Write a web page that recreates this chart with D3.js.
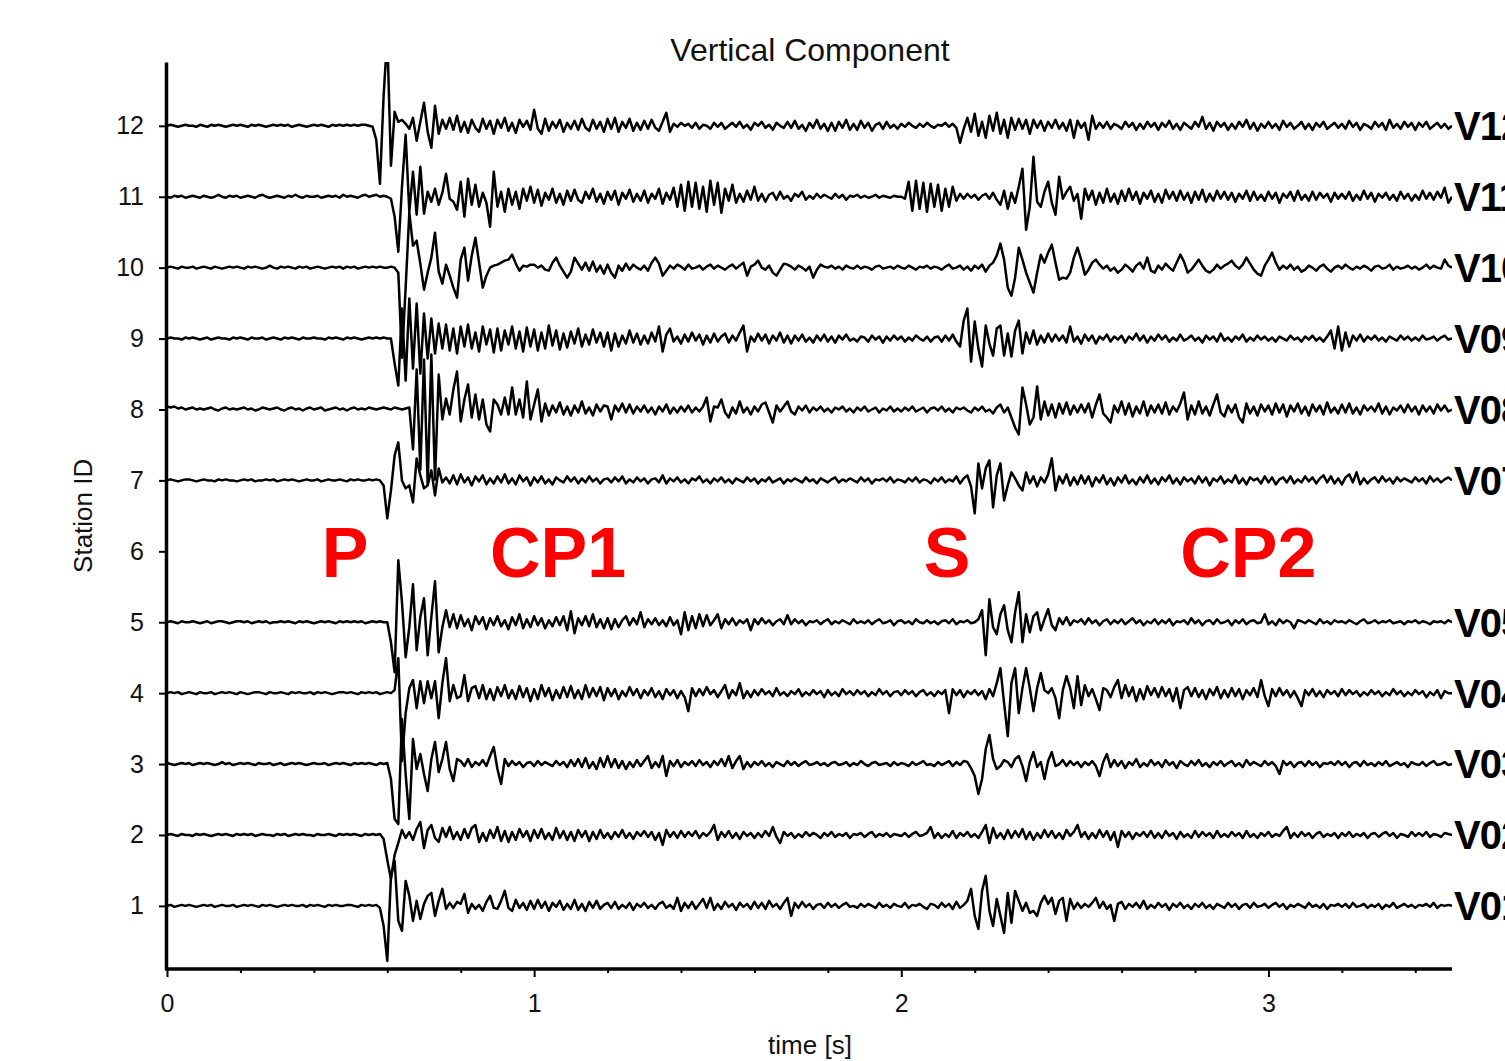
<!DOCTYPE html>
<html>
<head>
<meta charset="utf-8">
<script src="https://cdn.jsdelivr.net/npm/d3@7"></script>
<style>
  body { margin: 0; background: #fff; }
  svg { display: block; font-family: "Liberation Sans", Arial, Helvetica, sans-serif; }
</style>
</head>
<body>
<svg id="chart" width="1505" height="1061"></svg>
<script>
// sample interval of the traces [s], and amplitude units per station spacing
var DT = 0.01
var UNITS_PER_STATION = 70.9

var stationIds = [12, 11, 10, 9, 8, 7, 5, 4, 3, 2, 1]
var stationNames = ["V12", "V11", "V10", "V09", "V08", "V07", "V05", "V04", "V03", "V02", "V01"]
var yTickValues = [1, 2, 3, 4, 5, 6, 7, 8, 9, 10, 11, 12]
var xTickValues = [0, 1, 2, 3]
var phaseNames = ["P", "CP1", "S", "CP2"]
var phaseTimes = [0.485, 1.065, 2.125, 2.945]
var phaseRow = 6

var v12 = [
  0,1,0,-1,0,1,0,0,-1,1,
  0,-1,1,0,1,0,-1,0,1,0,
  1,0,-1,1,0,1,0,-1,0,1,
  0,1,0,1,-1,0,1,0,-1,0,
  1,0,1,0,-1,1,0,1,0,1,
  0,1,0,1,1,0,-1,-14,-58,30,
  90,-40,14,4,6,2,-3,8,-15,4,
  23,-6,-22,20,-8,6,-3,8,-4,10,
  -6,4,-7,6,-2,-6,7,-3,5,-8,
  6,-2,8,-5,3,-7,6,-1,5,-4,
  16,-3,-8,7,-5,4,-2,6,-6,3,
  -3,5,-4,7,-2,-5,6,-3,4,-6,
  7,-3,8,-6,4,-2,7,-5,3,-4,
  5,-3,6,-2,-5,4,13,-6,2,-1,
  3,0,2,-2,3,-3,1,0,-3,3,
  -1,3,-3,0,3,-1,4,-2,1,-4,
  3,0,4,-2,1,-4,3,0,-2,4,
  -2,5,-3,1,-5,3,-2,6,-3,2,
  -5,3,-5,4,-2,6,-4,2,-4,5,
  -2,3,-5,1,3,-3,4,-2,1,-3,
  2,-1,3,0,-2,2,-1,3,0,-2,
  1,0,3,-1,2,-2,-17,-3,8,-6,
  12,-10,4,-12,10,-5,13,-8,6,-12,
  8,-4,7,-3,6,-8,6,-2,5,-5,
  4,-2,6,-3,3,-5,6,-12,5,-2,
  3,-14,10,-3,3,-2,4,-3,2,0,
  -3,4,-1,3,-4,2,-3,4,-1,3,
  -4,3,-1,5,-3,2,-4,3,0,-3,
  4,-1,9,-3,3,-5,4,-1,3,-4,
  2,-3,4,-1,6,-3,3,-5,2,-2,
  4,-2,2,-4,5,-1,3,-3,0,4,
  -3,2,-4,3,-1,4,-3,0,3,-2,
  2,-3,5,-1,3,-4,2,0,-3,4,
  -1,3,-4,6,-2,2,-3,4,-1,3,
  -4,3,-1,4,-3,0,3,-2,2,-3,
  0
]

var v11 = [
  0,-1,1,0,1,-1,0,1,0,-1,
  1,0,-1,0,2,0,-1,1,0,1,
  -1,0,1,0,-1,1,2,0,-1,0,
  1,0,-1,1,0,2,0,-1,1,0,
  0,1,-1,0,1,0,1,-1,2,0,
  1,0,-1,1,2,0,1,2,0,1,
  0,-2,-20,-55,10,62,-15,25,-18,30,
  -17,5,-5,8,-8,4,23,-2,-5,-13,
  15,-20,18,-8,12,-10,4,-6,-30,25,
  -10,5,-15,8,-8,5,-12,8,-4,10,
  -6,7,-9,4,-3,8,-6,3,-8,6,
  -4,7,-3,-6,5,-2,8,-5,3,-7,
  5,-3,6,-8,4,-2,7,-5,3,-4,
  6,-6,3,-2,8,-7,4,-3,9,-10,
  12,-14,15,-10,14,-12,10,-15,16,-8,
  14,-16,8,-4,12,-6,3,-5,6,-3,
  10,-4,3,-5,2,4,-3,5,-2,1,
  -4,3,0,5,-3,1,-2,3,-1,2,
  0,-2,3,-1,2,-3,1,0,2,-1,
  1,-1,0,2,-1,1,0,-1,1,0,
  0,-2,15,-14,16,-12,14,-15,13,-10,
  12,-14,8,-10,10,-4,3,-2,3,-1,
  2,-3,1,3,-2,4,-3,-8,6,-12,
  4,-6,10,28,-33,-10,40,-5,-10,5,
  15,-6,-18,20,-2,5,10,-4,3,-22,
  8,-3,6,-8,4,-6,8,-5,3,-7,
  6,-4,8,-3,5,-7,4,-2,6,-5,
  3,-6,7,-2,5,-4,6,-3,4,-6,
  5,-3,7,-5,3,-4,6,-2,5,-3,
  4,-5,3,-2,6,-4,5,-3,2,-4,
  5,-2,4,-6,3,-1,5,-4,6,-3,
  2,-4,5,-3,4,-1,3,-5,4,-2,
  3,-2,5,-4,2,-3,6,-2,4,-5,
  3,-1,4,-3,2,-4,5,-2,3,-4,
  2,-3,6,-2,4,-3,5,-1,9,-6,
  0
]

var v10 = [
  0,1,0,-1,1,0,0,1,-1,0,
  1,0,-1,1,0,-1,0,1,0,1,
  0,-1,1,0,1,0,-1,0,2,0,
  -1,1,0,1,0,-1,1,0,1,-1,
  0,1,0,-1,0,1,0,1,-1,1,
  0,1,-1,0,1,0,1,0,1,0,
  0,1,0,-5,-90,-20,55,22,27,4,
  -22,-5,10,35,-4,-16,3,-8,-20,-30,
  8,20,-13,12,30,5,-20,-8,0,2,
  3,5,7,8,13,4,-3,2,1,3,
  3,0,2,-2,-3,5,10,2,-4,-10,
  -4,10,4,-2,5,-3,6,-4,2,-6,
  3,-5,-10,2,-3,4,-2,3,0,-2,
  2,-3,5,10,4,-8,-3,2,-1,3,
  1,-2,3,-1,0,2,-2,1,3,-1,
  2,0,-2,1,3,-1,2,5,-8,1,
  3,7,0,-2,2,-5,-8,-2,4,3,
  1,-2,2,0,-3,1,-10,-2,3,1,
  0,2,-1,1,-2,2,0,-1,2,-1,
  1,0,-2,1,2,-1,0,1,-1,2,
  0,-1,2,0,-2,1,0,2,-1,1,
  0,-2,1,3,-1,0,2,-2,1,-3,
  2,-1,3,-4,2,5,12,24,8,-20,
  -28,-10,20,8,-5,-15,-25,-5,13,5,
  15,23,5,-12,-10,-11,-5,10,20,8,
  -7,-2,5,8,3,-1,2,-3,0,-5,
  -2,3,0,-4,2,5,-1,10,-3,-5,
  2,-2,4,0,-3,5,13,6,-5,-2,
  3,8,2,-3,-5,-2,3,-1,2,4,
  7,2,-1,3,10,4,-2,-6,-8,2,
  8,15,5,-2,2,-1,3,-2,1,-4,
  -2,2,0,-3,1,3,-1,-4,0,2,
  -1,3,0,-2,1,-1,2,0,-3,1,
  2,-1,0,3,-2,1,-1,0,2,-1,
  1,-2,0,3,-1,2,0,-1,8,2,
  0
]

var v09 = [
  0,1,0,0,-1,1,0,1,0,-1,
  0,1,-1,0,1,0,0,-1,1,0,
  1,0,-1,1,0,0,1,-1,0,1,
  0,-1,1,0,1,0,-1,1,0,0,
  1,0,0,-1,1,0,1,0,-1,1,
  0,1,0,-1,0,1,0,1,0,1,
  0,0,-25,-47,30,-42,40,-30,35,-35,
  25,-20,20,-15,15,-10,14,-12,10,-15,
  12,-8,14,-10,6,-13,12,-6,9,-14,
  10,-12,8,-6,12,-10,7,-13,11,-8,
  9,-12,6,-10,13,-7,8,-11,5,-9,
  7,-5,10,-8,4,-6,9,-4,6,-8,
  6,-12,5,-8,3,-5,8,-4,5,-6,
  3,-5,6,-3,12,-13,4,10,-3,2,
  -5,4,-3,6,-2,4,-6,3,-4,5,
  -3,2,5,-4,3,-2,6,13,-13,2,
  -3,5,-2,4,-5,3,-2,6,-4,3,
  -5,3,-2,4,-3,1,-4,3,-2,4,
  -3,2,-4,3,-1,4,-2,0,-3,2,
  1,-3,3,-1,2,-4,2,-2,3,-1,
  2,-3,1,-2,3,0,-2,2,-3,1,
  2,-3,3,-2,4,-3,-8,18,30,-23,
  17,-10,-28,13,-5,-17,10,13,-17,5,
  -18,8,18,-15,6,-5,8,-6,3,-4,
  5,-3,4,-2,3,-4,12,-3,2,-5,
  4,-2,3,-5,2,-1,4,-3,2,-1,
  3,-4,2,-1,5,-2,3,-4,2,-2,
  4,-1,3,-3,1,-2,4,-2,0,3,
  -2,1,-4,3,-1,2,-3,5,-2,1,
  -3,2,-1,4,-3,1,-2,3,-1,2,
  -2,1,-3,2,0,-2,3,-1,1,-3,
  2,-1,3,-2,1,-3,2,8,-10,12,
  -12,6,-8,3,-2,4,-3,2,-1,3,
  -2,1,-3,2,0,-2,3,-1,2,-2,
  1,-2,3,-1,0,2,-2,1,3,-1,
  0
]

var v08 = [
  3,2,3,1,2,0,1,2,0,1,
  0,1,2,0,-1,1,2,0,1,0,
  1,2,0,1,-1,0,2,1,0,1,
  2,0,-1,1,2,0,1,-1,1,2,
  0,1,2,-1,0,1,2,0,1,-1,
  1,2,0,1,0,2,1,0,1,2,
  1,0,2,1,0,1,2,-40,40,-60,
  50,-75,55,-70,35,-10,11,-5,20,38,
  -12,10,25,-8,15,-10,10,-15,-22,10,
  5,-5,12,-5,22,-5,10,-8,28,-10,
  5,20,-12,6,-6,4,-3,7,-5,3,
  -6,4,-3,8,-4,2,-6,5,-2,4,
  3,-10,4,-2,6,-3,5,-4,3,-2,
  4,-3,2,-5,3,-2,5,-4,2,-3,
  3,-2,4,-3,2,-2,3,12,-12,3,
  2,10,-3,-8,2,-4,8,-3,2,-5,
  3,-2,5,7,-3,-13,4,-2,3,8,
  -2,-5,3,-1,4,-3,2,-1,3,-2,
  1,-3,2,0,3,-2,1,-3,2,-1,
  3,-2,0,2,-3,1,-1,3,-2,1,
  -2,2,-1,3,-2,0,2,-3,1,2,
  -1,3,-2,1,-3,2,0,2,-1,-3,
  2,-1,3,-2,0,-4,2,5,-3,2,
  -8,-18,-25,22,5,-15,-8,23,-10,8,
  -6,5,-8,6,-4,7,-5,4,-3,5,
  -3,6,-8,5,15,-4,-8,-13,4,-3,
  8,-5,6,-7,3,-4,8,-6,4,-3,
  5,-4,7,-5,3,-2,6,17,-10,4,
  -5,8,-4,3,-6,5,15,-3,-7,4,
  -3,5,-8,-13,6,-4,3,-6,5,-2,
  4,-5,6,-3,5,-7,4,-2,6,-4,
  3,-6,5,-2,4,-5,7,-3,2,-4,
  5,-3,6,-4,2,-5,4,-1,3,-2,
  6,-4,3,-5,2,-1,4,-3,5,-2,
  3,-5,4,-2,3,-4,5,-1,4,-2,
  0
]

var v07 = [
  0,1,0,-1,0,1,1,0,-1,0,
  1,0,0,-1,1,0,1,0,0,-1,
  0,1,0,1,-1,0,0,1,0,1,
  -1,0,1,0,1,0,-1,0,1,0,
  0,1,-1,0,1,0,0,1,0,-1,
  1,0,1,0,0,1,0,1,0,-5,
  -38,-10,25,38,0,-8,-5,-22,22,5,
  -8,-5,10,-15,12,-2,3,-3,5,-4,
  6,-2,3,-5,4,-1,5,-4,2,-3,
  4,-2,6,-3,2,-4,5,-1,3,-5,
  3,-2,4,-3,1,-4,3,0,-2,4,
  -1,3,-3,2,-2,4,-1,2,-3,1,
  2,-2,3,-1,4,-3,1,-2,3,-1,
  2,-3,1,2,-2,5,-3,2,-1,3,
  -2,1,-3,2,0,4,-2,1,-3,2,
  -1,3,-2,1,-3,2,0,-2,3,-1,
  2,-3,1,-1,3,-2,0,2,-3,1,
  -1,2,0,-2,3,-1,1,-3,2,0,
  -2,1,3,-2,1,-1,2,0,-2,3,
  -1,2,-3,1,0,2,-1,3,-2,1,
  0,-2,2,-1,3,-2,1,0,-3,2,
  -1,3,-2,1,-1,4,-3,2,5,-6,
  -33,17,-8,12,20,-27,5,17,-20,-5,
  8,2,-5,-10,8,-3,4,-6,3,-2,
  6,22,-10,4,-3,6,-5,3,-4,5,
  -3,4,-6,3,-2,5,-4,2,-5,3,
  -2,5,-3,1,-4,3,-2,5,-3,2,
  -4,3,-1,5,-3,2,-4,3,-1,2,
  -3,4,-2,3,-5,2,-1,4,-3,1,
  -2,5,-3,2,-4,3,0,2,-3,4,
  -2,3,-4,1,3,-2,4,-3,1,-2,
  4,-1,3,-3,2,5,-2,4,-3,2,
  -4,3,6,-2,8,-4,2,-3,1,3,
  -2,4,-1,2,-3,3,-1,2,0,-2,
  3,-1,2,-3,4,-1,2,-2,1,3,
  0
]

var v05 = [
  0,1,0,-1,1,0,0,1,0,-1,
  0,1,-1,0,1,1,0,-1,0,1,
  1,0,1,-1,0,1,0,1,-1,0,
  0,1,0,1,0,-1,1,0,1,0,
  -1,0,1,0,1,0,-1,1,0,1,
  0,1,0,1,-1,0,1,0,1,0,
  0,-20,-50,62,20,-35,-5,38,-28,5,
  24,-33,5,41,-30,-5,12,-5,8,-6,
  7,-4,3,-8,6,-2,5,-7,4,-3,
  6,-4,2,-7,5,-3,8,-6,3,-5,
  6,-3,4,-6,2,-4,5,-3,6,-8,
  11,-11,4,-3,6,-4,8,-5,3,-6,
  4,-7,3,-5,2,6,-3,4,-2,10,
  -5,3,-2,4,-3,2,-4,5,-3,2,
  -12,10,-8,6,-6,8,-4,7,-3,2,
  8,-6,3,-2,4,-3,2,-1,3,-8,
  3,-2,4,-1,2,-3,1,3,-2,7,
  -2,3,-1,2,-3,1,0,2,-2,1,
  3,-2,1,-1,2,0,-2,3,-1,1,
  -1,2,-2,1,3,-1,0,2,-3,1,
  2,-1,1,-2,3,0,-1,2,-1,1,
  -2,1,2,-1,3,-2,1,0,2,-1,
  0,3,12,-33,23,-5,-12,8,17,-8,
  -20,10,30,-20,8,-10,6,10,-8,3,
  13,-3,-8,4,-2,5,-3,2,0,3,
  -2,4,-1,2,-3,1,3,-2,2,-1,
  3,-2,1,4,-1,2,-3,1,-1,3,
  -2,2,-1,3,-3,1,0,2,-2,4,
  -1,2,-3,1,2,-2,3,-1,0,2,
  -3,2,-1,3,-2,1,2,-1,0,8,
  -2,1,-3,3,-1,2,0,-6,2,1,
  -1,2,0,-2,3,-1,1,-2,2,0,
  1,-1,2,0,-2,1,3,-1,0,2,
  -1,1,0,2,-1,0,1,-2,1,0,
  2,-1,1,0,-2,1,0,1,-1,2,
  0
]

var v04 = [
  0,1,0,1,-1,0,1,0,-1,1,
  0,0,1,-1,0,1,0,1,0,-1,
  1,0,-1,0,1,1,0,-1,1,0,
  0,1,0,-1,1,0,1,0,0,1,
  -1,1,0,1,0,-1,0,1,1,0,
  1,0,-1,1,0,1,0,1,-1,0,
  1,0,3,35,-68,-20,5,13,-15,12,
  -10,12,-5,12,-25,10,35,-8,8,-5,
  -3,18,-8,5,7,-5,8,-6,4,-7,
  6,-3,8,-5,3,-6,7,-4,5,-8,
  4,-6,8,-3,5,-7,3,-5,6,-4,
  7,-5,3,-6,8,-4,5,-3,6,-7,
  5,-3,4,-6,2,-3,6,-2,4,-5,
  3,-2,5,-4,2,-6,4,-2,3,-5,
  2,-4,-18,5,-3,4,-2,6,-1,3,
  -4,2,8,-5,3,-2,10,-5,2,-4,
  3,-2,4,-1,2,-3,5,-2,1,-3,
  2,-1,4,-3,1,-2,3,-1,2,-4,
  3,-2,1,-3,4,-1,2,-2,3,-1,
  2,-3,1,-2,4,-1,2,-3,1,2,
  -2,3,-1,2,-3,1,3,-2,1,-3,
  2,-1,3,-20,4,-2,3,-4,2,-1,
  3,-2,2,-6,4,-3,10,25,-10,-43,
  10,25,-20,5,25,5,-18,5,20,3,
  0,5,-5,-25,3,17,5,-15,17,-12,
  8,-3,4,-6,-17,5,3,-4,6,13,
  -5,8,-3,6,-8,4,-6,7,-2,5,
  -4,6,-3,4,-8,5,-15,3,6,-3,
  5,-4,3,-6,4,-2,6,-5,3,-4,
  5,-3,4,-6,3,-2,5,-4,13,-3,
  -13,4,-3,5,-2,3,-4,2,-5,-13,
  3,-2,4,-3,2,-4,3,-1,2,-3,
  4,-2,3,-1,2,-3,1,-2,3,-1,
  2,-3,1,-2,4,-1,2,-3,1,-2,
  3,-1,2,-4,1,-2,3,-5,2,0,
  0
]

var v03 = [
  1,0,-1,0,1,0,1,-1,0,1,
  0,1,0,-1,0,2,0,1,-1,0,
  1,0,1,0,-1,1,0,0,1,-1,
  0,1,-1,0,1,0,1,0,-1,0,
  1,0,0,1,-1,0,1,0,1,0,
  -1,1,0,1,0,1,0,-1,1,0,
  1,-15,-55,-60,45,-10,-55,25,-5,10,
  -10,-27,5,22,-8,5,22,-5,-17,5,
  3,-2,5,-3,2,-1,4,-2,8,17,
  -5,-20,5,-2,3,-1,2,-3,1,2,
  -2,3,-1,2,0,-2,3,-1,2,-3,
  4,-2,5,-3,6,-4,2,-5,6,-3,
  8,-3,5,-4,3,-5,2,-3,4,-2,
  3,8,-4,2,-3,8,-12,3,-2,4,
  -3,2,-1,3,-2,4,-1,2,-3,3,
  -1,5,-2,8,-4,3,8,-5,2,-3,
  2,-1,3,-2,1,-3,2,0,-2,3,
  -1,2,-2,1,3,-1,0,2,-1,1,
  -2,1,2,-1,0,2,-2,1,-1,3,
  0,-2,1,2,-1,0,1,-2,2,-1,
  1,0,-2,2,-1,1,3,-1,0,-2,
  2,-1,1,3,-2,2,-1,3,2,-4,
  -12,-30,-15,15,29,5,-5,-2,4,2,
  -3,5,8,-2,-17,2,12,-3,2,-15,
  3,12,-2,0,4,-2,3,-1,2,-3,
  2,-1,3,-2,-12,2,10,-3,4,-2,
  3,-4,2,-1,5,-3,1,-2,4,-1,
  2,-3,4,-1,2,-4,3,0,-2,3,
  -1,4,-2,1,-3,2,-1,3,-2,1,
  3,-2,1,-3,4,-1,2,0,-2,3,
  -1,2,-2,-10,3,-1,2,-3,1,2,
  -2,3,-1,2,-3,1,0,2,-1,3,
  -1,2,-3,1,2,-2,3,-1,1,-2,
  2,-1,3,-2,0,2,-1,1,-3,2,
  0,-1,2,-2,1,3,-1,0,2,-1,
  0
]

var v02 = [
  0,1,0,-1,1,0,0,-1,1,0,
  1,0,-1,0,1,0,1,0,-1,1,
  0,1,0,1,-1,0,1,0,0,-1,
  1,0,1,-1,0,1,0,1,0,0,
  -1,1,0,0,1,0,-1,1,0,1,
  0,1,0,-1,1,0,1,0,1,-4,
  -25,-44,-20,-8,5,-3,3,-5,6,13,
  -13,5,10,-3,-7,7,-2,8,-4,3,
  -5,6,-3,7,10,-7,2,-6,5,-3,
  8,-6,4,-7,3,-5,6,-2,4,-6,
  5,-3,6,-4,2,-5,7,-3,4,-5,
  3,-6,5,-2,4,-6,3,-4,5,-3,
  2,-4,3,-2,5,-3,2,-4,3,-1,
  4,-2,3,-5,2,-10,5,-2,3,-3,
  4,-2,3,-1,4,-3,2,-1,3,10,
  -5,3,-2,4,-3,2,-4,3,-1,2,
  -3,2,-2,4,-1,8,-2,-8,3,-1,
  2,-3,1,-2,3,-1,2,0,-3,2,
  -1,3,-2,1,-1,2,-3,1,0,2,
  -2,1,3,-2,1,-1,2,-2,1,0,
  -1,2,-2,1,3,-1,0,2,8,-3,
  2,-3,1,-2,4,-3,2,-1,3,-2,
  1,-3,3,10,-8,7,-3,2,-4,5,
  -3,4,-2,6,-4,3,-5,2,-3,5,
  -2,4,-3,2,-4,5,-1,3,10,-2,
  3,-4,2,-3,5,-2,4,-5,3,-12,
  4,-2,3,-4,2,-1,3,-2,4,-3,
  2,-3,4,-1,2,-4,3,-2,1,-3,
  4,-2,3,-1,2,-3,4,-2,1,-2,
  3,-1,2,-3,4,-2,1,-3,2,-1,
  3,-2,1,-1,4,8,-3,2,-2,3,
  -1,2,-3,1,3,-2,1,-1,2,-3,
  2,-1,3,-2,1,-1,2,-3,1,2,
  -2,1,3,-1,2,-3,1,0,-2,3,
  -1,2,-1,3,-2,1,0,-2,2,1,
  0
]

var v01 = [
  0,1,-1,0,1,0,1,0,-1,0,
  1,0,1,-1,0,1,0,0,1,-1,
  0,1,0,1,0,-1,1,0,1,0,
  -1,0,1,0,1,0,0,1,-1,1,
  0,1,0,-1,1,0,1,0,0,1,
  1,0,-1,1,0,1,0,1,-2,-20,
  -55,30,45,-15,-25,25,10,-15,5,-13,
  2,10,13,-10,5,17,-3,3,-2,4,
  2,12,-7,2,-3,1,-5,4,10,-2,
  -3,5,15,-2,-5,6,-2,3,-4,5,
  -3,6,-2,4,-5,3,-1,5,-4,2,
  -3,6,-4,2,-5,4,-2,5,-3,1,
  3,-2,4,-3,1,-2,3,-4,2,-1,
  3,-2,1,-3,2,4,-2,1,-3,8,
  -5,3,-2,4,-3,2,7,-2,8,-4,
  2,-3,4,-1,2,-4,3,-1,2,-3,
  4,-2,3,-3,5,-1,2,-3,3,8,
  -10,3,-2,4,-1,2,-3,1,2,-2,
  3,-1,2,-2,1,3,-1,0,-2,2,
  -1,2,0,-2,3,-1,1,-2,2,0,
  -1,3,-2,1,0,2,-1,-3,2,1,
  -2,3,-1,2,-3,4,-2,1,5,17,
  -10,-23,15,30,-5,-20,7,-10,-27,13,
  -17,15,5,-5,3,-7,-5,-10,3,10,
  2,8,-8,5,8,-15,7,-3,3,-2,
  2,-1,3,8,-2,4,-3,1,-15,2,
  4,-3,2,-1,3,-2,5,-3,1,-2,
  3,-1,2,-4,2,-1,3,-2,1,-3,
  2,-1,3,-2,1,-3,2,0,-2,3,
  -1,2,-3,1,2,-2,3,-1,0,2,
  -2,1,3,-1,2,-3,1,-1,2,0,
  -2,3,-1,1,-2,2,-3,1,0,2,
  -1,2,-2,3,-1,0,2,-2,1,-1,
  2,-3,1,-1,3,-2,0,2,-1,1,
  -2,1,0,2,-1,3,-2,1,0,1,
  0
]

var traces = [v12, v11, v10, v09, v08, v07, v05, v04, v03, v02, v01]

var PLOT = { left: 167, right: 1452, top: 62, bottom: 969 }

var svg = d3.select("#chart")

var x = d3.scaleLinear()
  .domain([0, 3.5])
  .range([PLOT.left, PLOT.right])

var y = d3.scaleLinear()
  .domain([0.11, 12.9])
  .range([PLOT.bottom, PLOT.top])

function traceData(values, station) {
  return values.map(function(v, i) {
    return { t: i * DT, s: station + v / UNITS_PER_STATION }
  })
}

function drawTraces() {
  svg.append("clipPath")
    .attr("id", "plotClip")
    .append("rect")
    .attr("x", PLOT.left)
    .attr("y", PLOT.top)
    .attr("width", PLOT.right - PLOT.left)
    .attr("height", PLOT.bottom - PLOT.top)

  var line = d3.line()
    .x(function(d) { return x(d.t) })
    .y(function(d) { return y(d.s) })

  svg.append("g")
    .attr("clip-path", "url(#plotClip)")
    .selectAll(".trace")
    .data(traces)
    .enter().append("path")
    .attr("class", "trace")
    .attr("fill", "none")
    .attr("stroke", "#000")
    .attr("stroke-width", 2.5)
    .attr("stroke-linejoin", "round")
    .attr("d", function(d, i) { return line(traceData(d, stationIds[i])) })
}

function drawAxes() {
  // minor ticks every 0.2 s
  var minor = d3.range(0, 3.5001, 0.2).filter(function(t) {
    return Math.abs(t - Math.round(t)) > 1e-6
  })
  svg.append("g")
    .attr("transform", "translate(0," + PLOT.bottom + ")")
    .call(d3.axisBottom(x).tickValues(minor).tickSize(4).tickSizeOuter(0).tickFormat(""))
    .call(function(g) { g.select(".domain").remove() })
    .selectAll("line").attr("stroke-width", 2)

  var xAxis = svg.append("g")
    .attr("transform", "translate(0," + PLOT.bottom + ")")
    .call(d3.axisBottom(x).tickValues(xTickValues).tickSize(8).tickPadding(17)
      .tickSizeOuter(0).tickFormat(d3.format("d")))
  xAxis.select(".domain")
    .attr("stroke-width", 3.5)
    .attr("d", "M" + (PLOT.left - 2) + ",0H" + PLOT.right)
  xAxis.selectAll(".tick line").attr("stroke-width", 2)
  xAxis.selectAll("text")
    .attr("font-size", 25)
    .attr("fill", "#111")

  var yAxis = svg.append("g")
    .attr("transform", "translate(" + (PLOT.left - 1) + ",0)")
    .call(d3.axisLeft(y).tickValues(yTickValues).tickSize(7).tickPadding(15)
      .tickSizeOuter(0).tickFormat(d3.format("d")))
  yAxis.select(".domain").attr("stroke-width", 3.5)
  yAxis.selectAll(".tick line").attr("stroke-width", 2)
  yAxis.selectAll("text")
    .attr("font-size", 25)
    .attr("fill", "#111")
}

function drawLabels() {
  svg.append("text")
    .attr("x", 810)
    .attr("y", 61)
    .attr("text-anchor", "middle")
    .attr("font-size", 32)
    .attr("fill", "#111")
    .text("Vertical Component")

  svg.append("text")
    .attr("x", 810)
    .attr("y", 1054)
    .attr("text-anchor", "middle")
    .attr("font-size", 26)
    .attr("fill", "#111")
    .text("time [s]")

  svg.append("text")
    .attr("transform", "translate(92," + y(6.5) + ") rotate(-90)")
    .attr("text-anchor", "middle")
    .attr("font-size", 26)
    .attr("fill", "#111")
    .text("Station ID")

  // station names run off the right edge, as in the original figure
  svg.selectAll(".station-name")
    .data(stationNames)
    .enter().append("text")
    .attr("class", "station-name")
    .attr("x", x(3.5) + 2)
    .attr("y", function(d, i) { return y(stationIds[i]) })
    .attr("dy", "0.36em")
    .attr("font-size", 40)
    .attr("font-weight", "bold")
    .attr("letter-spacing", -1)
    .attr("fill", "#000")
    .text(function(d) { return d })

  svg.selectAll(".phase")
    .data(phaseNames)
    .enter().append("text")
    .attr("class", "phase")
    .attr("x", function(d, i) { return x(phaseTimes[i]) })
    .attr("y", y(phaseRow))
    .attr("dy", "0.36em")
    .attr("text-anchor", "middle")
    .attr("font-size", 70)
    .attr("font-weight", "bold")
    .attr("fill", "#ff0000")
    .text(function(d) { return d })
}

drawTraces()
drawAxes()
drawLabels()
</script>
</body>
</html>
